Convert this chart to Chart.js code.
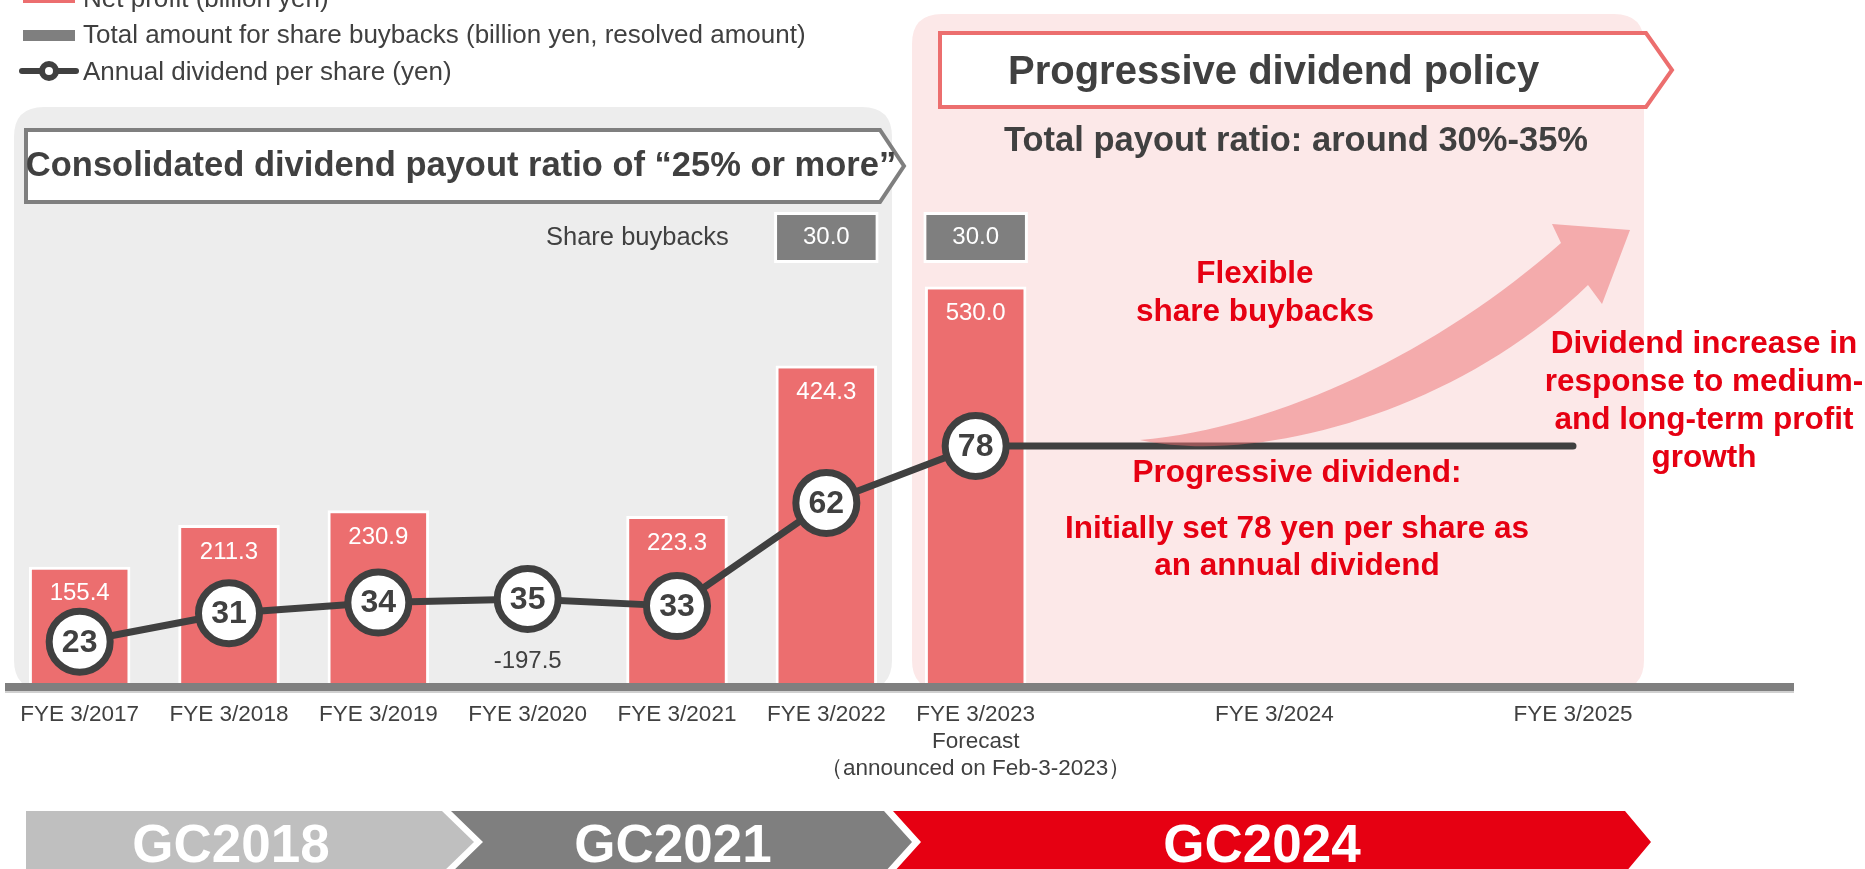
<!DOCTYPE html>
<html>
<head>
<meta charset="utf-8">
<script src="https://cdn.jsdelivr.net/npm/chart.js"></script>
<style>
  body { margin: 0; background: #fff; }
  #wrap { position: relative; width: 1865px; height: 869px; overflow: hidden; font-family: "Liberation Sans", Arial, sans-serif; }
  #chart { position: absolute; left: 0; top: 0; }
  .t { position: absolute; white-space: pre; line-height: 1; }
  .sw { position: absolute; }
</style>
</head>
<body>
<div id="wrap">
  <canvas id="chart" width="1865" height="869"></canvas>
</div>
<script>
// --- data ---
const labels = ['FYE 3/2017', 'FYE 3/2018', 'FYE 3/2019', 'FYE 3/2020', 'FYE 3/2021', 'FYE 3/2022',
  ['FYE 3/2023', 'Forecast', '（announced on Feb-3-2023）'], '', 'FYE 3/2024', '', 'FYE 3/2025', ''];
const netProfit = [155.4, 211.3, 230.9, -197.5, 223.3, 424.3, 530.0, null, null, null, null, null];
const buybacks = [null, null, null, null, null, 30.0, 30.0, null, null, null, null, null];
const dividend = [23, 31, 34, 35, 33, 62, 78, 78, 78, 78, 78, null];
const actualYears = 7; // circles drawn for the first 7 years only

const FONT = '"Liberation Sans", Arial, sans-serif';
const DARK = '#404040';
const RED = '#E60012';
const BAR = '#EC6E6F';
const GREY = '#7F7F7F';

// text that sits around the chart (not data)
const notes = [
  ['Net profit (billion yen)', 83, 7, 26, false, DARK, 'left'],
  ['Total amount for share buybacks (billion yen, resolved amount)', 83, 43, 26, false, DARK, 'left'],
  ['Annual dividend per share (yen)', 83, 80, 26, false, DARK, 'left'],
  ['Consolidated dividend payout ratio of “25% or more”', 461, 176, 34.5, true, DARK, 'center'],
  ['Share buybacks', 546, 246, 25.5, false, DARK, 'left'],
  ['Progressive dividend policy', 1008, 84, 40, true, DARK, 'left'],
  ['Total payout ratio: around 30%-35%', 1004, 151, 34.5, true, DARK, 'left'],
  ['Flexible', 1255, 284, 31.5, true, RED, 'center'],
  ['share buybacks', 1255, 322, 31.5, true, RED, 'center'],
  ['Progressive dividend:', 1297, 483, 31.5, true, RED, 'center'],
  ['Initially set 78 yen per share as', 1297, 539, 31.5, true, RED, 'center'],
  ['an annual dividend', 1297, 576, 31.5, true, RED, 'center'],
  ['Dividend increase in', 1704, 354, 31.5, true, RED, 'center'],
  ['response to medium-', 1704, 392, 31.5, true, RED, 'center'],
  ['and long-term profit', 1704, 430, 31.5, true, RED, 'center'],
  ['growth', 1704, 468, 31.5, true, RED, 'center'],
  ['GC2018', 231, 862, 53, true, '#fff', 'center'],
  ['GC2021', 673, 862, 53, true, '#fff', 'center'],
  ['GC2024', 1262, 862, 53, true, '#fff', 'center']
];

const wrap = document.getElementById('wrap');
notes.forEach(n => {
  const d = document.createElement('div');
  d.className = 't';
  d.textContent = n[0];
  d.style.fontSize = n[3] + 'px';
  d.style.fontWeight = n[4] ? 'bold' : 'normal';
  d.style.color = n[5];
  d.style.top = (n[2] - 0.8465 * n[3]) + 'px';
  if (n[6] === 'center') {
    d.style.left = (n[1] - 600) + 'px';
    d.style.width = '1200px';
    d.style.textAlign = 'center';
  } else {
    d.style.left = n[1] + 'px';
  }
  wrap.appendChild(d);
});

// legend swatches
function swatch(css) {
  const d = document.createElement('div');
  d.className = 'sw';
  Object.assign(d.style, css);
  wrap.appendChild(d);
}
swatch({left: '23px', top: '-8px', width: '52px', height: '11px', background: BAR});
swatch({left: '23px', top: '30px', width: '52px', height: '11px', background: GREY});
swatch({left: '19px', top: '68px', width: '60px', height: '6px', background: DARK, borderRadius: '3px'});
swatch({left: '39px', top: '61px', width: '8px', height: '8px', background: '#fff', border: '6px solid ' + DARK, borderRadius: '50%'});

function roundBox(ctx, l, t, r, b, rad, fill) {
  ctx.beginPath();
  ctx.moveTo(l + rad, t);
  ctx.lineTo(r - rad, t);
  ctx.quadraticCurveTo(r, t, r, t + rad);
  ctx.lineTo(r, b - rad);
  ctx.quadraticCurveTo(r, b, r - rad, b);
  ctx.lineTo(l + rad, b);
  ctx.quadraticCurveTo(l, b, l, b - rad);
  ctx.lineTo(l, t + rad);
  ctx.quadraticCurveTo(l, t, l + rad, t);
  ctx.closePath();
  ctx.fillStyle = fill;
  ctx.fill();
}

function chevron(ctx, l, notch, t, r, tip, b, fill, stroke, lw) {
  const m = (t + b) / 2;
  ctx.beginPath();
  ctx.moveTo(l, t);
  ctx.lineTo(r, t);
  ctx.lineTo(tip, m);
  ctx.lineTo(r, b);
  ctx.lineTo(l, b);
  if (notch) ctx.lineTo(notch, m);
  ctx.closePath();
  ctx.fillStyle = fill;
  ctx.fill();
  if (stroke) {
    ctx.lineWidth = lw;
    ctx.strokeStyle = stroke;
    ctx.lineJoin = 'miter';
    ctx.stroke();
  }
}

const decor = {
  id: 'decor',
  beforeDraw(chart) {
    const ctx = chart.ctx;
    ctx.save();
    roundBox(ctx, 14, 107, 892, 690, 30, '#EDEDED');
    roundBox(ctx, 912, 14, 1644, 690, 30, '#FCE8E8');
    chevron(ctx, 26, 0, 130, 880, 904, 202, '#fff', GREY, 4);
    chevron(ctx, 940, 0, 33, 1646, 1672, 107, '#fff', '#EC6E6E', 4);
    chevron(ctx, 26, 0, 811, 442, 474, 873, '#BFBFBF');
    chevron(ctx, 451, 483, 811, 884, 912, 873, GREY);
    chevron(ctx, 893, 921, 811, 1625, 1651, 873, RED);
    ctx.restore();
  },
  afterDatasetsDraw(chart) {
    const ctx = chart.ctx;
    const area = chart.chartArea;
    ctx.save();

    // curved arrow
    ctx.beginPath();
    ctx.moveTo(1140, 440);
    ctx.bezierCurveTo(1260, 466, 1460, 410, 1588, 285);
    ctx.lineTo(1602, 304);
    ctx.lineTo(1630, 230);
    ctx.lineTo(1552, 224);
    ctx.lineTo(1561, 243);
    ctx.bezierCurveTo(1440, 350, 1280, 428, 1140, 440);
    ctx.closePath();
    ctx.fillStyle = 'rgba(236,110,112,0.5)';
    ctx.fill();

    // axis line
    ctx.fillStyle = GREY;
    ctx.fillRect(area.left, area.bottom, area.right - area.left - 3, 8);
    ctx.fillStyle = '#D0D0D0';
    ctx.fillRect(area.left, area.bottom + 8, area.right - area.left - 3, 2);

    ctx.textAlign = 'center';
    ctx.textBaseline = 'middle';

    // net profit labels
    const pm = chart.getDatasetMeta(1);
    pm.data.forEach((el, i) => {
      const v = netProfit[i];
      if (v === null) return;
      ctx.font = '24px ' + FONT;
      if (v < 0) {
        ctx.fillStyle = DARK;
        ctx.fillText(v.toFixed(1), el.x, area.bottom - 22);
      } else {
        ctx.fillStyle = '#fff';
        ctx.fillText(v.toFixed(1), el.x, el.y + 27);
      }
    });

    // buyback labels
    const bm = chart.getDatasetMeta(2);
    bm.data.forEach((el, i) => {
      const v = buybacks[i];
      if (v === null) return;
      ctx.font = '24px ' + FONT;
      ctx.fillStyle = '#fff';
      ctx.fillText(v.toFixed(1), el.x, (el.y + el.base) / 2);
    });

    // dividend numbers in circles
    const lm = chart.getDatasetMeta(0);
    lm.data.forEach((el, i) => {
      if (i >= actualYears) return;
      ctx.font = 'bold 32px ' + FONT;
      ctx.fillStyle = DARK;
      ctx.fillText(String(dividend[i]), el.x, el.y + 1);
    });

    ctx.restore();
  }
};

Chart.defaults.font.family = FONT;

const config = {
  data: {
    labels: labels,
    datasets: [
      {
        type: 'line',
        label: 'Annual dividend per share (yen)',
        data: dividend,
        yAxisID: 'yDiv',
        borderColor: DARK,
        borderWidth: 7,
        borderCapStyle: 'round',
        borderJoinStyle: 'round',
        tension: 0,
        pointRadius: dividend.map((v, i) => i < actualYears ? 30.5 : 0),
        pointBorderWidth: 7,
        pointBackgroundColor: '#fff',
        pointBorderColor: DARK,
        order: 0
      },
      {
        type: 'bar',
        label: 'Net profit (billion yen)',
        data: netProfit,
        yAxisID: 'y',
        backgroundColor: BAR,
        borderColor: '#fff',
        borderWidth: 3,
        borderSkipped: 'start',
        categoryPercentage: 1,
        barPercentage: 0.68,
        grouped: false,
        order: 2
      },
      {
        type: 'bar',
        label: 'Total amount for share buybacks (billion yen, resolved amount)',
        data: buybacks,
        yAxisID: 'yBuy',
        backgroundColor: GREY,
        borderColor: '#fff',
        borderWidth: 3,
        borderSkipped: false,
        categoryPercentage: 1,
        barPercentage: 0.70,
        grouped: false,
        order: 1
      }
    ]
  },
  options: {
    responsive: false,
    animation: false,
    devicePixelRatio: 1,
    layout: { autoPadding: false, padding: { left: 5, right: 68, top: 0, bottom: 0 } },
    plugins: { legend: { display: false }, tooltip: { enabled: false } },
    scales: {
      x: {
        offset: true,
        grid: { display: false },
        border: { display: false },
        ticks: { padding: 10, color: DARK, autoSkip: false, maxRotation: 0, font: { size: 22.5 } },
        afterFit(scale) { scale.height = 186; }
      },
      y: { display: false, min: 0, max: 913 },
      yDiv: { display: false, min: 11.4, max: 203.3 },
      yBuy: { display: false, min: -247.1, max: 154.7 }
    }
  },
  plugins: [decor]
};

window.onload = function() {
  const ctx = document.getElementById('chart').getContext('2d');
  window.myChart = new Chart(ctx, config);
};
</script>
</body>
</html>
